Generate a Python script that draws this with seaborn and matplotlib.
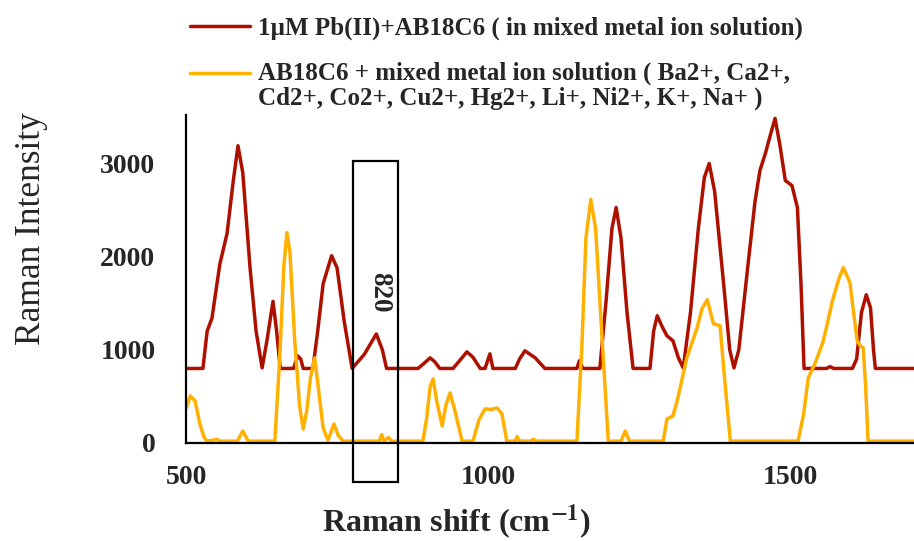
import matplotlib
matplotlib.use("Agg")
import matplotlib.pyplot as plt
import seaborn as sns
import pandas as pd
from matplotlib.lines import Line2D
from matplotlib.patches import Rectangle

# Raman spectrum: 1 uM Pb(II) + AB18C6 in mixed metal ion solution
shift_pb = [500, 528, 535, 543, 556, 568, 578, 586, 594, 606, 616, 626, 634, 644, 650, 656,
            678, 685, 690, 694, 710, 718, 727, 741, 750, 762, 775, 795, 815, 825, 832,
            884, 895, 904, 912, 920, 942, 955, 965, 975, 987, 995, 1003, 1008, 1045, 1052,
            1061, 1078, 1094, 1147, 1151, 1157, 1185, 1195, 1205, 1212, 1220, 1230, 1240,
            1268, 1274, 1280, 1288, 1296, 1306, 1315, 1323, 1335, 1348, 1358, 1366, 1375,
            1390, 1400, 1407, 1415, 1430, 1442, 1450, 1459, 1467, 1475, 1483, 1492, 1503,
            1512, 1518, 1523, 1560, 1566, 1572, 1603, 1610, 1618, 1626, 1633, 1638, 1641, 1705]
intensity_pb = [800, 800, 1200, 1340, 1920, 2250, 2800, 3190, 2900, 1880, 1200, 806, 1100, 1520, 1200, 800,
                800, 935, 900, 800, 800, 1200, 1710, 2010, 1880, 1300, 800, 950, 1170, 1000, 800,
                800, 860, 914, 870, 800, 800, 900, 978, 920, 800, 800, 957, 800, 800, 900,
                989, 914, 800, 800, 882, 800, 800, 1500, 2300, 2527, 2200, 1400, 800,
                800, 1200, 1366, 1250, 1151, 1097, 914, 806, 1400, 2300, 2850, 3000, 2700,
                1700, 1000, 806, 1000, 1900, 2600, 2925, 3108, 3300, 3484, 3200, 2817, 2763,
                2527, 1700, 800, 800, 820, 800, 800, 900, 1400, 1591, 1450, 1000, 800, 800]

# Raman spectrum: AB18C6 + mixed metal ion solution (no Pb)
shift_mix = [500, 507, 515, 523, 530, 535, 545, 551, 556, 585, 594, 603, 647, 655, 662, 667,
             672, 680, 688, 694, 700, 706, 713, 718, 727, 735, 745, 752, 760, 820, 824, 828,
             835, 840, 892, 898, 904, 909, 915, 924, 930, 937, 945, 957, 975, 985, 995, 1005,
             1015, 1023, 1031, 1045, 1048, 1052, 1070, 1075, 1080, 1147, 1155, 1162, 1170,
             1178, 1188, 1199, 1220, 1227, 1234, 1290, 1296, 1306, 1313, 1329, 1346, 1354,
             1363, 1373, 1384, 1390, 1401, 1513, 1522, 1530, 1541, 1555, 1570, 1580, 1588,
             1599, 1605, 1611, 1616, 1621, 1625, 1629, 1705]
intensity_mix = [370, 505, 452, 204, 60, 20, 30, 40, 20, 20, 129, 20, 20, 900, 1900, 2258,
                 2050, 1097, 400, 150, 350, 700, 914, 650, 161, 30, 204, 80, 20, 20, 90, 20,
                 60, 20, 20, 250, 600, 688, 450, 183, 400, 538, 350, 20, 20, 250, 366, 360,
                 376, 312, 20, 20, 70, 20, 20, 40, 20, 20, 1000, 2200, 2613,
                 2300, 1200, 20, 20, 129, 20, 20, 258, 290, 452, 914, 1237, 1441,
                 1538, 1280, 1258, 800, 20, 20, 300, 699, 850, 1097, 1527, 1750, 1882,
                 1720, 1400, 1097, 1043, 1021, 600, 20, 20]

label_pb = "1\u00b5M Pb(II)+AB18C6 ( in mixed metal ion solution)"
label_mix = ("AB18C6 + mixed metal ion solution ( Ba2+, Ca2+,\n"
             "Cd2+, Co2+, Cu2+, Hg2+, Li+, Ni2+, K+, Na+ )")
x_ticks = [500, 1000, 1500]
y_ticks = [0, 1000, 2000, 3000]
marked_band = 820

color_pb = "#AE1000"
color_mix = "#FFB000"

sns.set_theme(style="white")
plt.rcParams["font.family"] = ["Liberation Serif", "DejaVu Serif"]
plt.rcParams["mathtext.fontset"] = "stix"

fig = plt.figure(figsize=(9.14, 5.41), dpi=100)
ax = fig.add_axes([186 / 914, 98 / 541, 728 / 914, 328 / 541])

df_pb = pd.DataFrame({"shift": shift_pb, "intensity": intensity_pb})
df_mix = pd.DataFrame({"shift": shift_mix, "intensity": intensity_mix})
sns.lineplot(data=df_pb, x="shift", y="intensity", ax=ax, color=color_pb,
             linewidth=2.5, sort=False, estimator=None)
sns.lineplot(data=df_mix, x="shift", y="intensity", ax=ax, color=color_mix,
             linewidth=2.5, sort=False, estimator=None)

ax.set_xlim(500, 1705)
ax.set_ylim(0, 3520)
ax.set_xticks(x_ticks)
ax.set_yticks(y_ticks)
ax.set_xticklabels([str(t) for t in x_ticks], fontsize=20, fontweight="bold")
ax.set_yticklabels([str(t) for t in y_ticks], fontsize=20, fontweight="bold")
ax.tick_params(axis="both", length=0)
ax.tick_params(axis="y", pad=22)
ax.tick_params(axis="x", pad=16)

for side in ("top", "right"):
    ax.spines[side].set_visible(False)
for side in ("left", "bottom"):
    ax.spines[side].set_color("black")
    ax.spines[side].set_linewidth(1.6)

ax.set_xlabel("Raman shift (cm$^{\\mathbf{-1}}$)", fontsize=23, fontweight="bold")
ax.set_ylabel("Raman Intensity", fontsize=25.5)
ax.xaxis.set_label_coords(0.372, -0.183)
ax.yaxis.set_label_coords(-0.19, 0.655)

# box marking the 820 cm-1 band
box = Rectangle((776, -420), 75, 3450, fill=False, edgecolor="black",
                linewidth=1.6, clip_on=False, zorder=5)
ax.add_patch(box)
ax.text(marked_band, 1620, str(marked_band), rotation=-90, ha="center", va="center",
        fontsize=19.5, fontweight="bold", zorder=6)

handles = [Line2D([], [], color=color_pb, linewidth=2.5),
           Line2D([], [], color=color_mix, linewidth=2.5)]
leg_size = 18
leg = ax.legend(handles, [label_pb, label_mix], loc="upper left",
                bbox_to_anchor=(190 / 914, 1 - 17 / 541), bbox_transform=fig.transFigure,
                frameon=False, borderpad=0, borderaxespad=0, handlelength=2.4,
                handletextpad=0.3, labelspacing=0.85,
                prop={"family": "Liberation Serif", "weight": "bold", "size": leg_size})
leg.get_texts()[1].set_linespacing(1.08)
# keep the second handle level with the first line of its two-line label
for ln in leg.get_lines()[1:]:
    y = ln.get_ydata()
    ln.set_ydata([v + 0.54 * leg_size for v in y])

fig.savefig("out.png", dpi=100)
